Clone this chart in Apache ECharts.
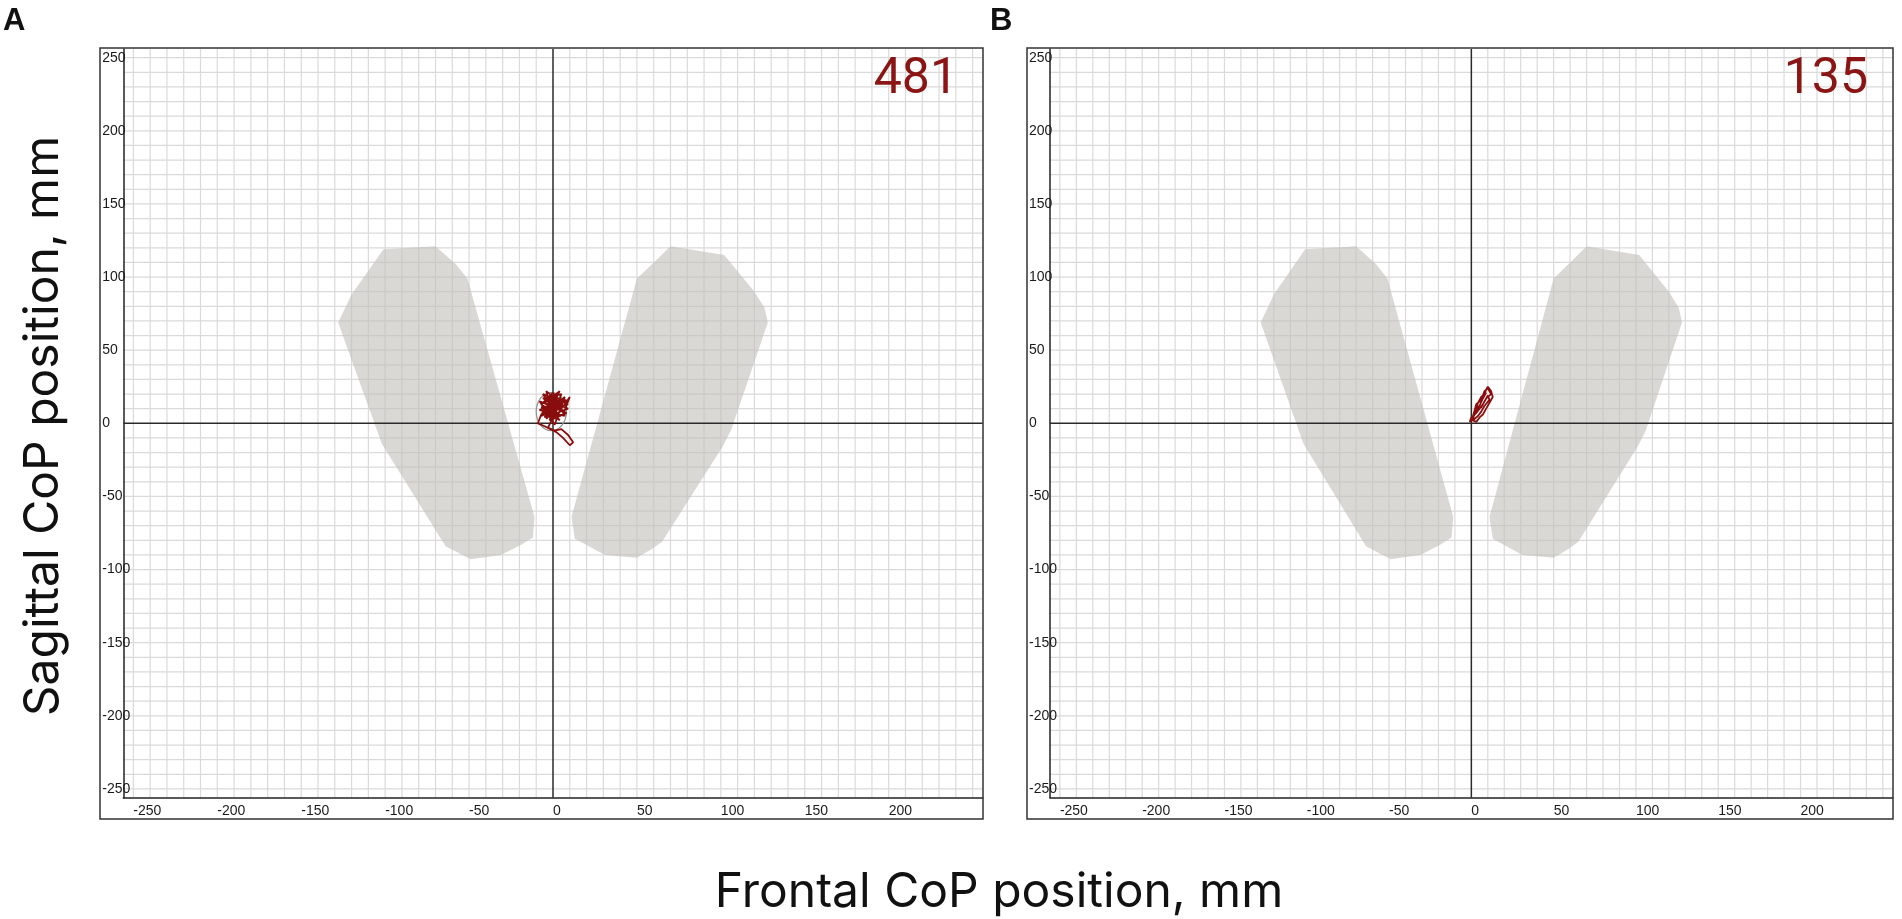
<!DOCTYPE html>
<html><head><meta charset="utf-8">
<script src="https://cdn.jsdelivr.net/npm/echarts@6/dist/echarts.min.js"></script>
<style>html,body{margin:0;padding:0;background:#fff}#c{width:1902px;height:919px}</style>
</head><body><div id="c"></div>
<script>
// ---- data ----
const xTickValues = [-250,-200,-150,-100,-50,0,50,100,150,200];
const yTickValues = [-250,-200,-150,-100,-50,0,50,100,150,200,250];
const gridValues = [-250,-240,-230,-220,-210,-200,-190,-180,-170,-160,-150,-140,-130,-120,-110,-100,-90,-80,-70,-60,-50,-40,-30,-20,-10,
  10,20,30,40,50,60,70,80,90,100,110,120,130,140,150,160,170,180,190,200,210,220,230,240,250];
const zeroLines = [0];
const axisRange = [-256, 256];
const footLeft = [[-101,119],[-70,121],[-58,109],[-51,99],[-11,-64],[-12,-78],[-19,-83],[-31,-90],[-49,-93],[-64,-84],[-102,-14],[-128,69],[-120,88]];
const footRight = [[70,121],[102,115],[120,90],[126,79],[128,69],[106,-5],[101,-16],[65,-81],[59,-86],[50,-92],[31,-90],[13,-79],[11,-64],[50,99],[61,111]];
const traceA = [[-2,5],[1,12],[-4,16],[3,20],[-1,9],[5,14],[-6,10],[2,3],[-3,18],[6,8],[0,21],[-7,13],[4,2],[-2,11],[8,16],[-5,4],[1,19],[7,5],[-8,9],[3,15],[-1,1],[5,20],[-6,17],[9,10],[0,6],[-4,22],[6,12],[-7,5],[2,17],[-2,2],[8,7],[-5,14],[4,22],[-3,8],[7,18],[1,-1],[-8,15],[5,9],[-1,15],[3,4],[-6,20],[9,13],[0,10],[-4,3],[6,16],[-2,19],[2,7],[-7,11],[4,13],[-3,-3],[1,-5],[5,-4],[9,-8],[12,-13],[10,-15],[6,-10],[2,-6],[-5,-2],[-9,0],[-7,6],[-3,12],[0,16],[4,9],[7,13],[10,18],[6,6],[-1,4],[-5,8],[-2,14],[3,11],[1,8]];
const traceB = [[0,2],[2,6],[4,10],[1,5],[3,13],[6,16],[8,20],[9,23],[10,25],[12,22],[13,18],[11,14],[9,10],[7,6],[5,4],[3,1],[1,2],[2,8],[5,12],[7,17],[9,21],[6,18],[4,14],[3,9],[6,11],[8,15],[10,19],[11,16],[8,12],[6,8],[4,5],[2,3],[-1,1],[0,4],[3,7],[5,10],[7,13],[9,17],[12,20],[10,24],[8,22],[7,19]];
const ellipseA = [-1, 8, 9, 13];
const scoreLabels = ['481', '135'];
const panelLabels = ['A', 'B'];

// ---- layout ----
const grids = [
  {left: 123.3, top: 48.9, width: 859.4, height: 748.8},
  {left: 1050, top: 48.9, width: 842.7, height: 748.8}
];
const boxes = [[100, 48, 883, 771], [1027, 48, 866, 771]];
const labelFont = 'Liberation Sans, Arial, sans-serif';

function gridSeries(gi) {
  const items = [];
  gridValues.forEach(v => { items.push([v, 0]); items.push([v, 1]); });
  return {type: 'custom', xAxisIndex: gi, yAxisIndex: gi, data: items, silent: true, z: 0,
    renderItem: (params, api) => {
      const v = api.value(0), o = api.value(1);
      const p1 = o === 0 ? api.coord([v, axisRange[0]]) : api.coord([axisRange[0], v]);
      const p2 = o === 0 ? api.coord([v, axisRange[1]]) : api.coord([axisRange[1], v]);
      return {type: 'line', shape: {x1: p1[0], y1: p1[1], x2: p2[0], y2: p2[1]}, style: {stroke: '#dadada', lineWidth: 1.2}};
    }};
}
function zeroSeries(gi) {
  const items = [];
  zeroLines.forEach(v => { items.push([v, 0]); items.push([v, 1]); });
  return {type: 'custom', xAxisIndex: gi, yAxisIndex: gi, data: items, silent: true, z: 3,
    renderItem: (params, api) => {
      const v = api.value(0), o = api.value(1);
      const p1 = o === 0 ? api.coord([v, axisRange[0]]) : api.coord([axisRange[0], v]);
      const p2 = o === 0 ? api.coord([v, axisRange[1]]) : api.coord([axisRange[1], v]);
      return {type: 'line', shape: {x1: p1[0], y1: p1[1], x2: p2[0], y2: p2[1]}, style: {stroke: '#2a2a2a', lineWidth: 1.5}};
    }};
}
function footSeries(pts, gi) {
  return {type: 'custom', xAxisIndex: gi, yAxisIndex: gi, data: pts, silent: true, z: 2,
    renderItem: (params, api) => {
      if (params.dataIndex !== 0) return;
      const points = pts.map(p => api.coord(p));
      return {type: 'polygon', shape: {points}, style: {fill: 'rgba(196,192,186,0.62)'}};
    }};
}
function ellipseSeries(e, gi) {
  return {type: 'custom', xAxisIndex: gi, yAxisIndex: gi, data: [[e[0], e[1]]], silent: true, z: 5,
    renderItem: (params, api) => {
      const c = api.coord([e[0], e[1]]);
      const s = api.size([e[2], e[3]]);
      return {type: 'ellipse', shape: {cx: c[0], cy: c[1], rx: s[0], ry: s[1]}, style: {fill: 'none', stroke: '#8f8f8f', lineWidth: 1.2}};
    }};
}
function traceSeries(d, gi) {
  return {type: 'line', xAxisIndex: gi, yAxisIndex: gi, data: d, showSymbol: false, silent: true, z: 6,
    lineStyle: {color: '#8a0d0d', width: 1.8}, animation: false};
}

const xAxes = [], yAxes = [];
[0, 1].forEach(gi => {
  xAxes.push({type: 'value', gridIndex: gi, min: axisRange[0], max: axisRange[1],
    axisLine: {onZero: false, lineStyle: {color: '#222', width: 1.5}},
    axisTick: {show: false}, splitLine: {show: false},
    axisLabel: {customValues: xTickValues, align: 'left', margin: 6, fontSize: 14, color: '#1a1a1a', fontFamily: labelFont,
      formatter: v => String(v)}});
  yAxes.push({type: 'value', gridIndex: gi, min: axisRange[0], max: axisRange[1],
    axisLine: {onZero: false, lineStyle: {color: '#222', width: 1.5}},
    axisTick: {show: false}, splitLine: {show: false},
    axisLabel: {customValues: yTickValues, align: 'left', margin: 21, fontSize: 14, color: '#1a1a1a', fontFamily: labelFont,
      padding: [10, 0, 0, 0], formatter: v => String(v)}});
});

const series = [];
[0, 1].forEach(gi => {
  series.push(gridSeries(gi));
  series.push(footSeries(footLeft, gi));
  series.push(footSeries(footRight, gi));
  series.push(zeroSeries(gi));
});
series.push(ellipseSeries(ellipseA, 0));
series.push(traceSeries(traceA, 0));
series.push(traceSeries(traceB, 1));

const graphic = [];
boxes.forEach((b, i) => {
  graphic.push({type: 'rect', shape: {x: b[0], y: b[1], width: b[2], height: b[3]}, style: {fill: 'none', stroke: '#333', lineWidth: 1.5}, z: 10, silent: true});
  graphic.push({type: 'text', x: b[0] + b[2] - 25, y: 80, style: {text: scoreLabels[i], fill: '#8b1414', font: '50px Roboto', textAlign: 'right', textVerticalAlign: 'middle'}, z: 10});
});
graphic.push({type: 'text', x: 3, y: 21, style: {text: panelLabels[0], fill: '#111', font: 'bold 31px "Liberation Sans", Arial', textAlign: 'left', textVerticalAlign: 'middle'}});
graphic.push({type: 'text', x: 990, y: 21, style: {text: panelLabels[1], fill: '#111', font: 'bold 31px "Liberation Sans", Arial', textAlign: 'left', textVerticalAlign: 'middle'}});
graphic.push({type: 'text', x: 999, y: 893, style: {text: 'Frontal CoP position, mm', fill: '#111', font: '48px Inter', textAlign: 'center', textVerticalAlign: 'middle'}});
graphic.push({type: 'text', x: 44, y: 426, rotation: Math.PI / 2, style: {text: 'Sagittal CoP position, mm', fill: '#111', font: '48px Inter', textAlign: 'center', textVerticalAlign: 'middle'}});

const chart = echarts.init(document.getElementById('c'));
chart.setOption({
  animation: false,
  grid: grids,
  xAxis: xAxes,
  yAxis: yAxes,
  series,
  graphic
});
</script></body></html>
